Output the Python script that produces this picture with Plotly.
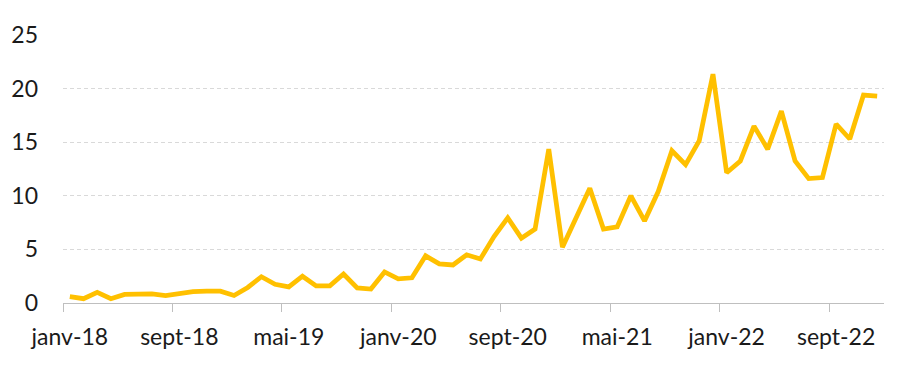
import plotly.graph_objects as go

month_names = ["janv", "févr", "mars", "avr", "mai", "juin",
               "juil", "août", "sept", "oct", "nov", "déc"]
years = ["18", "19", "20", "21", "22"]
categories = [f"{m}-{y}" for y in years for m in month_names]

values = [
    0.6, 0.4, 1.0, 0.4, 0.8, 0.85, 0.85, 0.7, 0.9, 1.05, 1.1, 1.1,
    0.7, 1.45, 2.45, 1.75, 1.5, 2.5, 1.6, 1.6, 2.7, 1.4, 1.3, 2.9,
    2.25, 2.35, 4.4, 3.65, 3.55, 4.5, 4.1, 6.2, 7.95, 6.05, 6.9, 14.35,
    5.2, 7.9, 10.7, 6.9, 7.1, 10.0, 7.65, 10.4, 14.2, 12.9, 15.15, 21.35,
    12.15, 13.25, 16.5, 14.35, 17.9, 13.25, 11.6, 11.7, 16.7, 15.3, 19.4, 19.3,
]

tick_step = 8
tick_idx = list(range(0, len(categories), tick_step))
tick_labels = [categories[i] for i in tick_idx]
x_idx = list(range(len(categories)))

fig = go.Figure()
fig.add_trace(go.Scatter(
    x=x_idx, y=values, mode="lines",
    line=dict(color="#FFC000", width=4.75),
    hoverinfo="skip",
))

font = dict(family="Lato, 'Open Sans', sans-serif", size=23, color="#1a1a1a")

fig.update_layout(
    width=900, height=366,
    margin=dict(l=55, r=24, t=27, b=71, autoexpand=False),
    paper_bgcolor="white", plot_bgcolor="white",
    showlegend=False,
    font=font,
    xaxis=dict(
        range=[-0.5, len(categories) - 0.5],
        tickmode="array", tickvals=tick_idx, ticktext=tick_labels,
        ticks="", showgrid=False, zeroline=False,
        showline=True, linecolor="#bfbfbf", linewidth=1,
        ticklabelstandoff=13,
        automargin=False,
        minor=dict(
            tickmode="array",
            tickvals=[i - 0.5 for i in tick_idx],
            ticks="outside", ticklen=8, tickcolor="#bfbfbf", tickwidth=1,
            showgrid=False,
        ),
        fixedrange=True,
    ),
    yaxis=dict(
        range=[0, 25], tickmode="array", tickvals=[0, 5, 10, 15, 20, 25],
        ticks="", showgrid=True, gridcolor="#d9d9d9", gridwidth=1,
        griddash="4px,3px", zeroline=False, showline=False,
        ticklabelstandoff=24,
        automargin=False,
        fixedrange=True,
    ),
)

fig.write_html("out.html")
